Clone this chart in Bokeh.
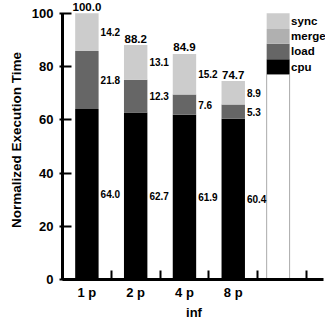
from bokeh.plotting import figure
from bokeh.models import ColumnDataSource, Range1d, FixedTicker, LabelSet, Title
from bokeh.core.properties import value
from bokeh.embed import file_html
from bokeh.resources import INLINE

# ---- data ----
categories = ["1 p", "2 p", "4 p", "8 p"]
cpu = [64.0, 62.7, 61.9, 60.4]
load = [21.8, 12.3, 7.6, 5.3]
merge = [0.0, 0.0, 0.0, 0.0]
sync = [14.2, 13.1, 15.2, 8.9]
totals = [100.0, 88.2, 84.9, 74.7]
series_names = ["cpu", "load", "merge", "sync"]
y_ticks = [0, 20, 40, 60, 80, 100]
x_title = "inf"
y_title = "Normalized Execution Time"

# ---- styles / layout ----
colors = ["#000000", "#666666", "#b0b0b0", "#cccccc"]
FONT = "Liberation Sans"
BAR_W = 0.48
centers = [i + 0.5 for i in range(len(categories))]
legend_x = 4.42
legend_w = 0.47
legend_edges = [77.1, 82.7, 88.6, 94.1, 100.0]
X_AXIS_END = 5.35

p = figure(width=325, height=319,
           x_range=Range1d(0, 5.391), y_range=Range1d(0, 104.8),
           output_backend="svg", toolbar_location=None,
           min_border_left=62, min_border_right=0,
           min_border_top=0, min_border_bottom=35,
           title_location="left")
p.outline_line_color = None
p.grid.visible = False
p.background_fill_color = "white"
p.border_fill_color = "white"

# y axis title (left side title, shifted up)
p.title.text = y_title
p.title.text_font = FONT
p.title.text_font_style = "bold"
p.title.text_font_size = "13.5px"
p.title.text_color = "black"
p.title.align = "center"
p.title.offset = 40.5
p.title.standoff = 9

# x axis title below
p.add_layout(Title(text=x_title, text_font=FONT, text_font_style="bold",
                   text_font_size="13px", text_color="black",
                   align="center", offset=-33, standoff=0), "below")

# bars
src = ColumnDataSource(dict(x=centers, cpu=cpu, load=load, merge=merge, sync=sync))
p.vbar_stack(series_names, x="x", width=BAR_W, fill_color=colors,
             line_color=None, source=src)

# legend drawn as a bar
p.vbar(x=legend_x, bottom=0, top=legend_edges[0], width=legend_w,
       fill_color="white", line_color="#aaaaaa", line_width=1)
p.vbar(x=[legend_x] * 4, bottom=legend_edges[:-1], top=legend_edges[1:],
       width=legend_w, fill_color=colors, line_color=None)
leg_src = ColumnDataSource(dict(
    x=[legend_x + legend_w / 2] * 4,
    y=[(legend_edges[i] + legend_edges[i + 1]) / 2 for i in range(4)],
    t=series_names))
p.add_layout(LabelSet(x="x", y="y", text="t", source=leg_src, x_offset=1.5,
                      text_font=value(FONT), text_font_style="bold",
                      text_font_size="11.5px", text_align="left",
                      text_baseline="middle", text_color="black"))

# segment value labels
lx, ly, lt = [], [], []
for i, c in enumerate(centers):
    base = 0.0
    for vals in (cpu, load, merge, sync):
        v = vals[i]
        if v > 0:
            lx.append(c + BAR_W / 2)
            ly.append(base + v / 2)
            lt.append(f"{v:.1f}")
        base += v
seg_src = ColumnDataSource(dict(x=lx, y=ly, t=lt))
p.add_layout(LabelSet(x="x", y="y", text="t", source=seg_src, x_offset=2,
                      text_font=value(FONT), text_font_style="bold",
                      text_font_size="10px", text_align="left",
                      text_baseline="middle", text_color="black"))

# totals above bars
tot_src = ColumnDataSource(dict(x=centers, y=totals, t=[f"{v:.1f}" for v in totals]))
p.add_layout(LabelSet(x="x", y="y", text="t", source=tot_src, y_offset=2,
                      text_font=value(FONT), text_font_style="bold",
                      text_font_size="11.5px", text_align="center",
                      text_baseline="alphabetic", text_color="black"))

# y axis
ya = p.yaxis[0]
ya.ticker = FixedTicker(ticks=y_ticks, minor_ticks=[])
ya.bounds = (0, 100)
ya.axis_line_width = 3
ya.major_tick_line_width = 2
ya.major_tick_in = 9
ya.major_tick_out = 3
ya.minor_tick_line_color = None
ya.major_label_standoff = 6
ya.major_label_text_font = FONT
ya.major_label_text_font_style = "bold"
ya.major_label_text_font_size = "13px"
ya.major_label_text_color = "black"

# x axis
xa = p.xaxis[0]
xa.ticker = FixedTicker(ticks=centers, minor_ticks=[1, 2, 3, 4, 5])
xa.bounds = (0, X_AXIS_END)
xa.major_label_overrides = {c: n for c, n in zip(centers, categories)}
xa.major_tick_line_color = None
xa.major_tick_in = 0
xa.major_tick_out = 0
xa.minor_tick_in = 9
xa.minor_tick_out = 0
xa.minor_tick_line_width = 2
xa.minor_tick_line_color = "black"
xa.axis_line_width = 3
xa.major_label_standoff = 5
xa.major_label_text_font = FONT
xa.major_label_text_font_style = "bold"
xa.major_label_text_font_size = "13px"
xa.major_label_text_color = "black"

open("out.html", "w").write(file_html(p, INLINE))
